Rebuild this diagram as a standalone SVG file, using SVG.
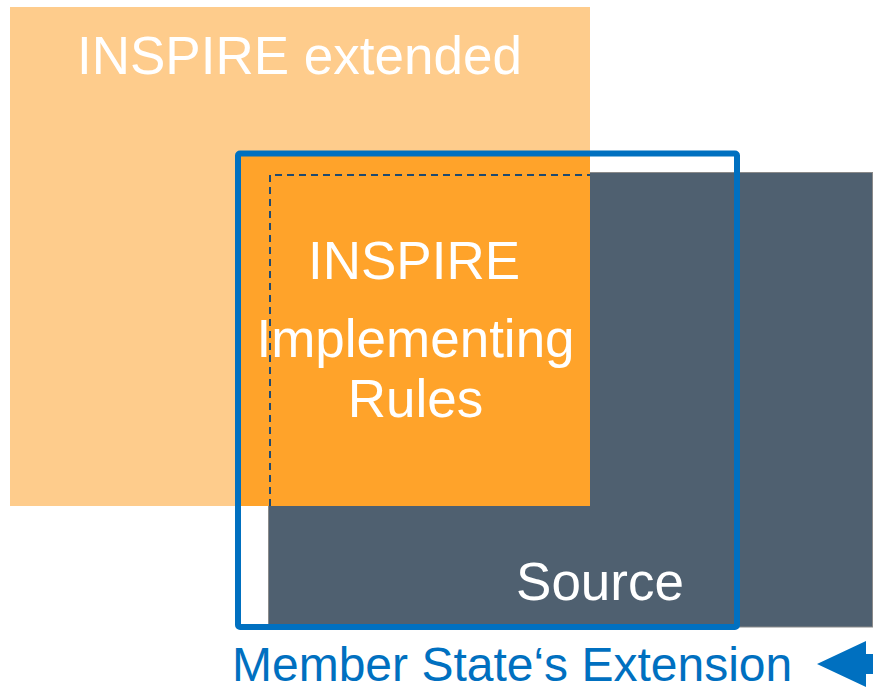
<svg xmlns="http://www.w3.org/2000/svg" width="873" height="687" viewBox="0 0 873 687">
  <style>
    .lbl { font-family: "Liberation Sans", Arial, sans-serif; fill: #ffffff; font-size: 53px; }
    .blue { font-family: "Liberation Sans", Arial, sans-serif; fill: #0070c0; font-size: 48px; }
  </style>
  <rect width="873" height="687" fill="#ffffff"/>
  <g id="inspire-extended">
    <rect x="10" y="7" width="580" height="499" fill="#fecc8c"/>
    <text class="lbl" x="77" y="74" font-size="54">INSPIRE extended</text>
  </g>
  <g id="source">
    <rect x="268.5" y="172.5" width="604" height="454.5" fill="#4f6070" stroke="#8a8a8a" stroke-width="1"/>
    <text class="lbl" x="600" y="600" text-anchor="middle" font-size="54">Source</text>
  </g>
  <g id="implementing-rules">
    <rect x="237" y="153" width="353" height="353" fill="#ffa32a"/>
    <path d="M270,506 V175 H590" fill="none" stroke="#1f4a70" stroke-width="2" stroke-dasharray="7,5"/>
    <text class="lbl" x="414" y="279" text-anchor="middle">INSPIRE</text>
    <text class="lbl" x="415.5" y="357" text-anchor="middle" font-size="54">Implementing</text>
    <text class="lbl" x="415.5" y="417" text-anchor="middle">Rules</text>
  </g>
  <g id="member-state-extension">
    <rect x="238" y="153.5" width="499" height="473.5" rx="2" fill="none" stroke="#0070c0" stroke-width="6"/>
    <text class="blue" x="232" y="681">Member State‘s Extension</text>
  </g>
  <g id="connectors">
    <polygon points="817,664 866,641 866,654 873,654 873,674 866,674 866,687" fill="#0070c0"/>
  </g>
</svg>
